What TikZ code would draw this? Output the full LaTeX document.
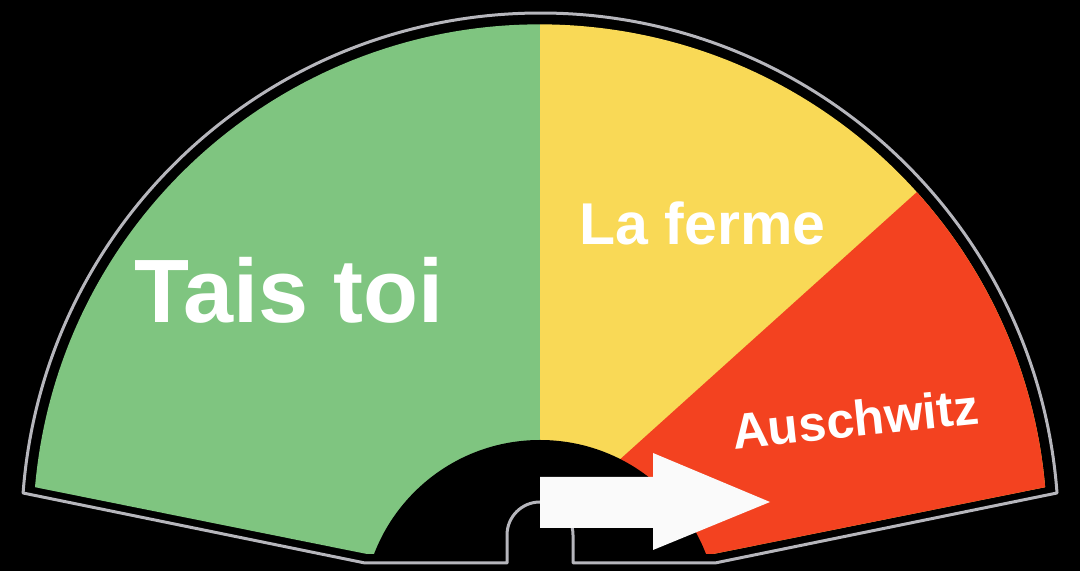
\documentclass[tikz,border=0pt]{standalone}
\usepackage{fontspec}
\setmainfont{Liberation Sans}
\usepackage{xcolor}
\usepackage{tikz}

\definecolor{gaugegreen}{RGB}{127,197,128}
\definecolor{gaugeyellow}{RGB}{249,217,86}
\definecolor{gaugered}{RGB}{243,66,32}
\definecolor{rimgray}{RGB}{182,182,188}

\begin{document}
\begin{tikzpicture}[x=0.5pt, y=0.5pt, gauge text/.style={text=white, inner sep=0pt, anchor=base}, rim/.style={draw=rimgray, line width=1.5pt, line join=round}]
        % Black backdrop, fixes the size
        \fill[black] (0,0) rectangle (1080,571);
        \clip (0,0) rectangle (1080,571);

        % Coloured face of the gauge
        \begin{scope}
            \clip (35,83.8) arc[start angle=175, end angle=5, radius=507] -- (713,17) -- (367,17) -- cycle;
            \fill[gaugegreen] (0,0) rectangle (540,571);
            \fill[gaugeyellow] (540,0) rectangle (1080,571);
            \fill[gaugered] (540,39.6) -- +(42:900) -- (1300,700) -- (1300,-100) -- (540,-100) -- cycle;
            \fill[black] (540,-46.7) circle[radius=177.7]; % hub
        \end{scope}

        % Rim with the notch at the bottom
        \draw[rim] (23,78) -- (365,8) -- (507,8) -- (507,36)
            arc[start angle=180, end angle=0, radius=33] -- (573,8) -- (715,8) -- (1057,78)
            arc[start angle=4.25, end angle=175.75, radius=518.4] -- cycle;

        % Pointer
        \fill[white!96!gray] (540,94) -- (653,94) -- (653,118) -- (770,69) -- (653,21) -- (653,43) -- (540,43) -- cycle;

        % Labels
        \node[gauge text, font=\bfseries\fontsize{45}{54}\selectfont] (taistoi) at (289,248) {Tais toi};
        \node[gauge text, font=\bfseries\fontsize{29.5}{36}\selectfont] (laferme) at (702.5,326) {La ferme};
        \node[gauge text, font=\bfseries\fontsize{25}{30}\selectfont, rotate=6] (auschwitz) at (857,134.5) {Auschwitz};

    \end{tikzpicture}
\end{document}
